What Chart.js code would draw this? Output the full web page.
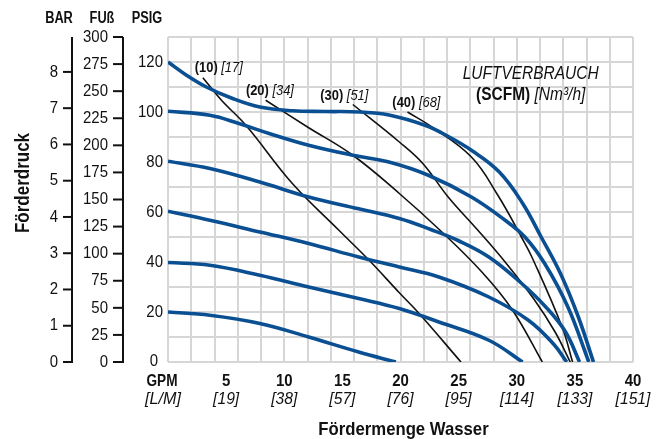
<!DOCTYPE html>
<html><head><meta charset="utf-8">
<script src="https://cdn.jsdelivr.net/npm/chart.js@4/dist/chart.umd.min.js"></script>
<style>html,body{margin:0;padding:0;background:#fff}</style>
</head><body>
<canvas id="c" width="668" height="439"></canvas>
<script>
// ---- data ----
const gpmTicks = [5, 10, 15, 20, 25, 30, 35, 40];
const lpmTicks = ['[19]', '[38]', '[57]', '[76]', '[95]', '[114]', '[133]', '[151]'];
const psiTicks = [0, 20, 40, 60, 80, 100, 120];
const barTicks = [0, 1, 2, 3, 4, 5, 6, 7, 8];
const ftTicks = [0, 25, 50, 75, 100, 125, 150, 175, 200, 225, 250, 275, 300];
const airScfm = ['(10)', '(20)', '(30)', '(40)'];
const airNm3 = ['[17]', '[34]', '[51]', '[68]'];

const x120 = [0, 1.5, 3.3, 5.5, 7.9, 10.7, 13.5, 16.5, 19, 22.1, 24, 26.1, 28.5, 30.5, 32.1, 33.8, 35.3, 36.6];
const y120 = [120, 115, 110, 105.5, 102, 100.5, 100.2, 100, 98.8, 94.7, 90.5, 84.7, 76, 63.5, 50, 35, 18, 0];
const x100 = [0, 3.6, 6.1, 8.7, 12.1, 15.9, 19, 22.4, 26.1, 29, 30.7, 32.4, 34.4, 36.2];
const y100 = [100.3, 98.7, 95.4, 91.4, 86.7, 82.7, 80, 74.7, 66, 56.7, 50, 39.4, 22, 0];
const x80 = [0, 3.6, 7.9, 12.1, 16.4, 19.9, 22.6, 25, 27.6, 30.4, 32.5, 34.2, 35.4];
const y80 = [80.3, 77.4, 72, 66, 61.3, 57.4, 53, 48.5, 42, 31.5, 22, 12, 0];
const x60 = [0, 3.6, 7.9, 12.1, 16.4, 19.9, 23.3, 27.6, 31, 33.2, 34.3];
const y60 = [60.3, 56.7, 52, 47.4, 42, 38, 34, 26, 16.7, 7, 0];
const x40 = [0, 3.6, 7.9, 12.1, 16.4, 19.9, 23.3, 27.6, 30.5];
const y40 = [39.8, 38.7, 34.7, 30, 25.4, 21.4, 16, 8.7, 0];
const x20 = [0, 3.6, 7.9, 12.1, 16.4, 19.6];
const y20 = [20, 18.7, 15.4, 10, 4, 0];

const xA10 = [3, 4.6, 6.7, 10.7, 14.7, 17.3, 19.9, 21.6, 25.2];
const yA10 = [113.7, 104.7, 94.7, 71.4, 52.7, 40.7, 27.7, 19.4, 0];
const xA20 = [8.4, 12, 15.9, 19.9, 23.4, 27, 29.6, 32.2];
const yA20 = [104.7, 94, 82.7, 67.4, 52.7, 36, 21, 0];
const xA30 = [15.9, 19.9, 21.9, 24.1, 26.6, 29, 31.5, 33.3, 34.6];
const yA30 = [103, 88, 79.5, 66, 53, 40, 25, 12, 0];
const xA40 = [20.6, 22.7, 26.1, 28.4, 30.4, 31.3, 33.9, 34.8];
const yA40 = [100, 94, 82, 66.5, 50, 42, 14, 0];

// ---- build ----
const pts = (xs, ys) => xs.map((x, i) => ({x, y: ys[i]}));
const BLUE = '#0b4f93';
const blue = (xs, ys) => ({data: pts(xs, ys), borderColor: BLUE, borderWidth: 3.6, showLine: true, pointRadius: 0, tension: 0.4, fill: false});
const black = (xs, ys) => ({data: pts(xs, ys), borderColor: '#111', borderWidth: 1.6, showLine: true, pointRadius: 0, tension: 0.4, fill: false});

const datasets = [
  blue(x20, y20), blue(x40, y40), blue(x60, y60), blue(x80, y80), blue(x100, y100), blue(x120, y120),
  black(xA10, yA10), black(xA20, yA20), black(xA30, yA30), black(xA40, yA40)
];

const FN = '"Liberation Sans", Arial, sans-serif';
const SX = 0.84; // condensed look
const PSI_PER_BAR = 14.5038;
const PSI_PER_FT = 130 / 300;

function T(c, s, x, y, font, align, sx) {
  c.save();
  c.font = font;
  c.textBaseline = 'middle';
  c.textAlign = align || 'center';
  c.translate(x, y);
  c.scale(sx || SX, 1);
  c.fillText(s, 0, 0);
  c.restore();
}
function W(c, s, font, sx) { c.save(); c.font = font; const w = c.measureText(s).width * (sx || SX); c.restore(); return w; }

const textPlugin = {
  id: 'texts',
  afterDraw(chart) {
    const c = chart.ctx, xs = chart.scales.x, ys = chart.scales.y;
    const top = chart.chartArea.top, bottom = chart.chartArea.bottom;
    c.save();
    c.fillStyle = '#111';
    c.strokeStyle = '#111';
    // headers
    const HB = 'bold 16px ' + FN;
    T(c, 'BAR', 59, 19, HB, 'center', 0.8);
    T(c, 'FUß', 102, 19, HB, 'center', 0.8);
    T(c, 'PSIG', 147, 19, HB, 'center', 0.8);
    // BAR axis
    c.lineWidth = 2;
    c.beginPath(); c.moveTo(72, top); c.lineTo(72, bottom + 1); c.stroke();
    const TF = '17px ' + FN;
    barTicks.forEach(b => {
      const y = ys.getPixelForValue(b * PSI_PER_BAR);
      c.beginPath(); c.moveTo(63, y); c.lineTo(72, y); c.stroke();
      T(c, String(b), 58, y, TF, 'right', 0.88);
    });
    // FT axis
    c.beginPath(); c.moveTo(123, top); c.lineTo(123, bottom + 1); c.stroke();
    ftTicks.forEach(f => {
      const y = ys.getPixelForValue(f * PSI_PER_FT);
      c.beginPath(); c.moveTo(113, y); c.lineTo(123, y); c.stroke();
      T(c, String(f), 108, y, TF, 'right', 0.88);
    });
    // PSI labels
    psiTicks.forEach(p => {
      const y = ys.getPixelForValue(p);
      T(c, String(p), p === 0 ? 158 : 163, p === 0 ? y - 1 : y, TF, 'right', 0.88);
    });
    // y title
    c.save();
    c.translate(23, 183); c.rotate(-Math.PI / 2);
    T(c, 'Förderdruck', 0, 0, 'bold 20px ' + FN, 'center', 0.85);
    c.restore();
    // x labels
    const XB = 'bold 17px ' + FN, XI = 'italic 17px ' + FN;
    T(c, 'GPM', 162, 381, XB, 'center', 0.8);
    gpmTicks.forEach(g => T(c, String(g), xs.getPixelForValue(g), 381, XB, 'center', 0.88));
    T(c, '[L/M]', 163, 399, XI, 'center', 0.95);
    gpmTicks.forEach((g, i) => T(c, lpmTicks[i], xs.getPixelForValue(g), 399, XI, 'center', 0.92));
    T(c, 'Fördermenge Wasser', (xs.left + xs.right) / 2 + 3, 430, 'bold 19px ' + FN, 'center', 0.88);
    // legend title
    const cx = xs.getPixelForValue(31.2);
    T(c, 'LUFTVERBRAUCH', cx, ys.getPixelForValue(115.3), 'italic 18px ' + FN, 'center', 0.86);
    const l2y = ys.getPixelForValue(106.8);
    const LB = 'bold 18px ' + FN, LI = 'italic 18px ' + FN;
    const w1 = W(c, '(SCFM) ', LB, 0.86), w2 = W(c, '[Nm³/h]', LI, 0.86);
    const lx = cx - (w1 + w2) / 2;
    T(c, '(SCFM) ', lx, l2y, LB, 'left', 0.86);
    T(c, '[Nm³/h]', lx + w1, l2y, LI, 'left', 0.86);
    // air consumption labels
    const anchors = [[2.3, 117.5], [6.7, 108.3], [13.1, 106.3], [19.3, 103.7]];
    const AB = 'bold 15px ' + FN, AI = 'italic 15px ' + FN;
    anchors.forEach((a, i) => {
      const px = xs.getPixelForValue(a[0]), py = ys.getPixelForValue(a[1]);
      T(c, airScfm[i], px, py, AB, 'left', 0.86);
      const w = W(c, airScfm[i] + ' ', AB, 0.86);
      T(c, airNm3[i], px + w, py, AI, 'left', 0.86);
    });
    c.restore();
  }
};

new Chart(document.getElementById('c'), {
  type: 'scatter',
  data: {datasets},
  options: {
    responsive: false, animation: false, devicePixelRatio: 1,
    layout: {padding: {left: 168, right: 35, top: 37, bottom: 77}},
    scales: {
      x: {type: 'linear', min: 0, max: 40, ticks: {display: false, stepSize: 2}, grid: {color: '#d6d6d6', lineWidth: 2, drawTicks: false}, border: {display: false}},
      y: {type: 'linear', min: 0, max: 130, ticks: {display: false, stepSize: 10}, grid: {color: '#d6d6d6', lineWidth: 2, drawTicks: false}, border: {display: false}}
    },
    plugins: {legend: {display: false}, tooltip: {enabled: false}}
  },
  plugins: [textPlugin]
});
</script>
</body></html>
